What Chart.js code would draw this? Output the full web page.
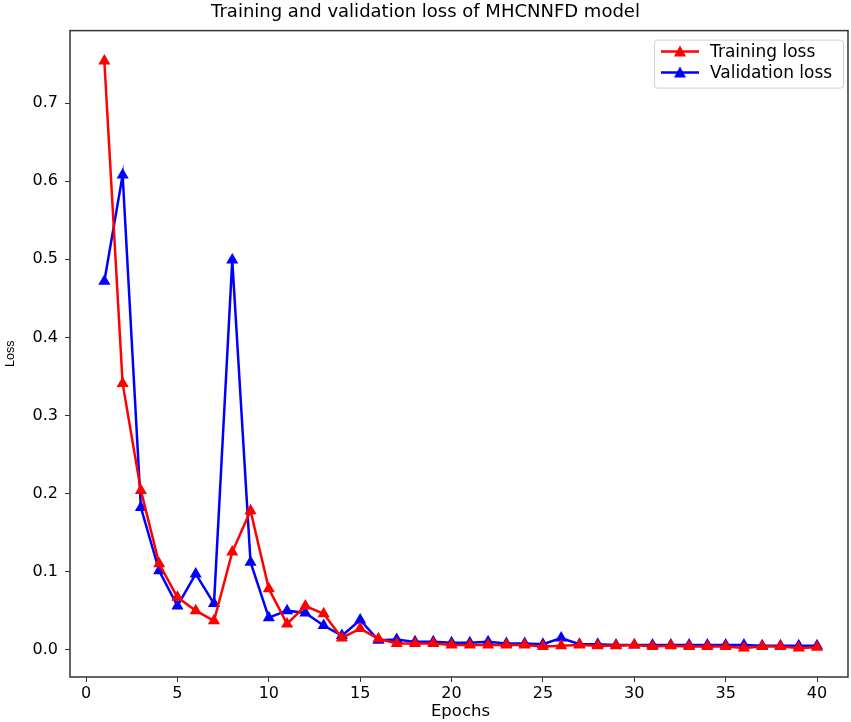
<!DOCTYPE html>
<html>
<head>
<meta charset="utf-8">
<script src="https://cdn.jsdelivr.net/npm/chart.js@4.4.0/dist/chart.umd.min.js"></script>
<style>
  html, body { margin: 0; padding: 0; background: #fff; }
  #wrap { width: 851px; height: 722px; }
</style>
</head>
<body>
<div id="wrap"><canvas id="lossChart" width="851" height="722"></canvas></div>
<script>
// data
var epochs = [1,2,3,4,5,6,7,8,9,10,11,12,13,14,15,16,17,18,19,20,
              21,22,23,24,25,26,27,28,29,30,31,32,33,34,35,36,37,38,39,40];
var trainLoss = [0.754,0.341,0.204,0.110,0.067,0.050,0.037,0.125,0.178,0.078,
                 0.033,0.056,0.046,0.015,0.027,0.014,0.008,0.008,0.008,0.006,
                 0.006,0.006,0.006,0.006,0.004,0.005,0.006,0.005,0.005,0.006,
                 0.004,0.005,0.004,0.004,0.004,0.002,0.004,0.004,0.002,0.003];
var valLoss = [0.472,0.608,0.182,0.101,0.056,0.097,0.059,0.499,0.112,0.041,
               0.050,0.047,0.031,0.018,0.038,0.012,0.013,0.010,0.010,0.009,
               0.009,0.010,0.008,0.008,0.007,0.015,0.007,0.007,0.006,0.006,
               0.006,0.006,0.006,0.006,0.006,0.006,0.005,0.005,0.005,0.005];
var xTicks = [0,5,10,15,20,25,30,35,40];
var yTicks = [0.0,0.1,0.2,0.3,0.4,0.5,0.6,0.7];
var seriesNames = ['Training loss', 'Validation loss'];
var seriesColors = ['#ff0000', '#0000ff'];

var FONT = "'DejaVu Sans', sans-serif";

function toPoints(ys) {
    return epochs.map(function(e, i) { return { x: e, y: ys[i] }; });
}

// box around the plot + legend in the upper right corner
var framePlugin = {
    id: 'frame',
    afterDraw: function(chart) {
        var ctx = chart.ctx, a = chart.chartArea;
        ctx.save();
        ctx.strokeStyle = '#333';
        ctx.lineWidth = 1.5;
        ctx.strokeRect(a.left, a.top, a.right - a.left - 3, a.bottom - a.top);

        var bx = 654, by = a.top + 9, bw = 189, bh = 48;
        ctx.fillStyle = 'rgba(255,255,255,0.8)';
        ctx.strokeStyle = '#d0d0d0';
        ctx.lineWidth = 1;
        ctx.beginPath();
        ctx.roundRect(bx + 0.5, by + 0.5, bw, bh, 3);
        ctx.fill();
        ctx.stroke();

        ctx.font = '17px ' + FONT;
        ctx.textBaseline = 'middle';
        seriesNames.forEach(function(name, i) {
            var cy = by + 12 + i * 21;
            ctx.strokeStyle = seriesColors[i];
            ctx.fillStyle = seriesColors[i];
            ctx.lineWidth = 2.5;
            ctx.beginPath();
            ctx.moveTo(bx + 7, cy);
            ctx.lineTo(bx + 45, cy);
            ctx.stroke();
            ctx.beginPath();
            ctx.moveTo(bx + 26, cy - 6);
            ctx.lineTo(bx + 32, cy + 5);
            ctx.lineTo(bx + 20, cy + 5);
            ctx.closePath();
            ctx.fill();
            ctx.fillStyle = '#000';
            ctx.fillText(name, bx + 56, cy + 1);
        });
        ctx.restore();
    }
};

var lossChart = new Chart(document.getElementById('lossChart'), {
    type: 'line',
    data: {
        datasets: [{
            label: seriesNames[0],
            data: toPoints(trainLoss),
            borderColor: seriesColors[0],
            backgroundColor: seriesColors[0],
            borderWidth: 2.5,
            pointStyle: 'triangle',
            pointRadius: 7,
            pointBorderWidth: 0,
            fill: false,
            tension: 0
        }, {
            label: seriesNames[1],
            data: toPoints(valLoss),
            borderColor: seriesColors[1],
            backgroundColor: seriesColors[1],
            borderWidth: 2.5,
            pointStyle: 'triangle',
            pointRadius: 7,
            pointBorderWidth: 0,
            fill: false,
            tension: 0
        }]
    },
    options: {
        responsive: false,
        animation: false,
        layout: { padding: 0, autoPadding: false },
        plugins: {
            legend: { display: false },
            tooltip: { enabled: false },
            title: {
                display: true,
                text: 'Training and validation loss of MHCNNFD model',
                color: '#000',
                font: { family: FONT, size: 18, weight: 'normal' },
                padding: { top: 2, bottom: 7 }
            }
        },
        scales: {
            x: {
                type: 'linear',
                min: -0.88,
                max: 41.86,
                afterBuildTicks: function(scale) {
                    scale.ticks = xTicks.map(function(v) { return { value: v }; });
                },
                afterFit: function(scale) {
                    scale.height = 45;
                    scale.paddingLeft = 0;
                    scale.paddingRight = 0;
                },
                grid: { display: true, drawOnChartArea: false, tickLength: 5, color: '#333' },
                border: { display: false },
                ticks: { color: '#000', font: { family: FONT, size: 16 }, padding: 2, maxRotation: 0 },
                title: {
                    display: true, text: 'Epochs', color: '#000',
                    font: { family: FONT, size: 16.5 }, padding: { top: 0, bottom: 0 }
                }
            },
            y: {
                type: 'linear',
                min: -0.035,
                max: 0.793,
                afterBuildTicks: function(scale) {
                    scale.ticks = yTicks.map(function(v) { return { value: v }; });
                },
                afterFit: function(scale) {
                    scale.width = 70;
                    scale.paddingTop = 0;
                    scale.paddingBottom = 0;
                },
                grid: { display: true, drawOnChartArea: false, tickLength: 5, color: '#333' },
                border: { display: false },
                ticks: {
                    color: '#000', font: { family: FONT, size: 16 }, padding: 7,
                    callback: function(v) { return v.toFixed(1); }
                },
                title: {
                    display: true, text: 'Loss', color: '#000',
                    font: { family: "'Liberation Sans', sans-serif", size: 12.5 },
                    padding: { top: 3, bottom: 0 }
                }
            }
        }
    },
    plugins: [framePlugin]
});
</script>
</body>
</html>
